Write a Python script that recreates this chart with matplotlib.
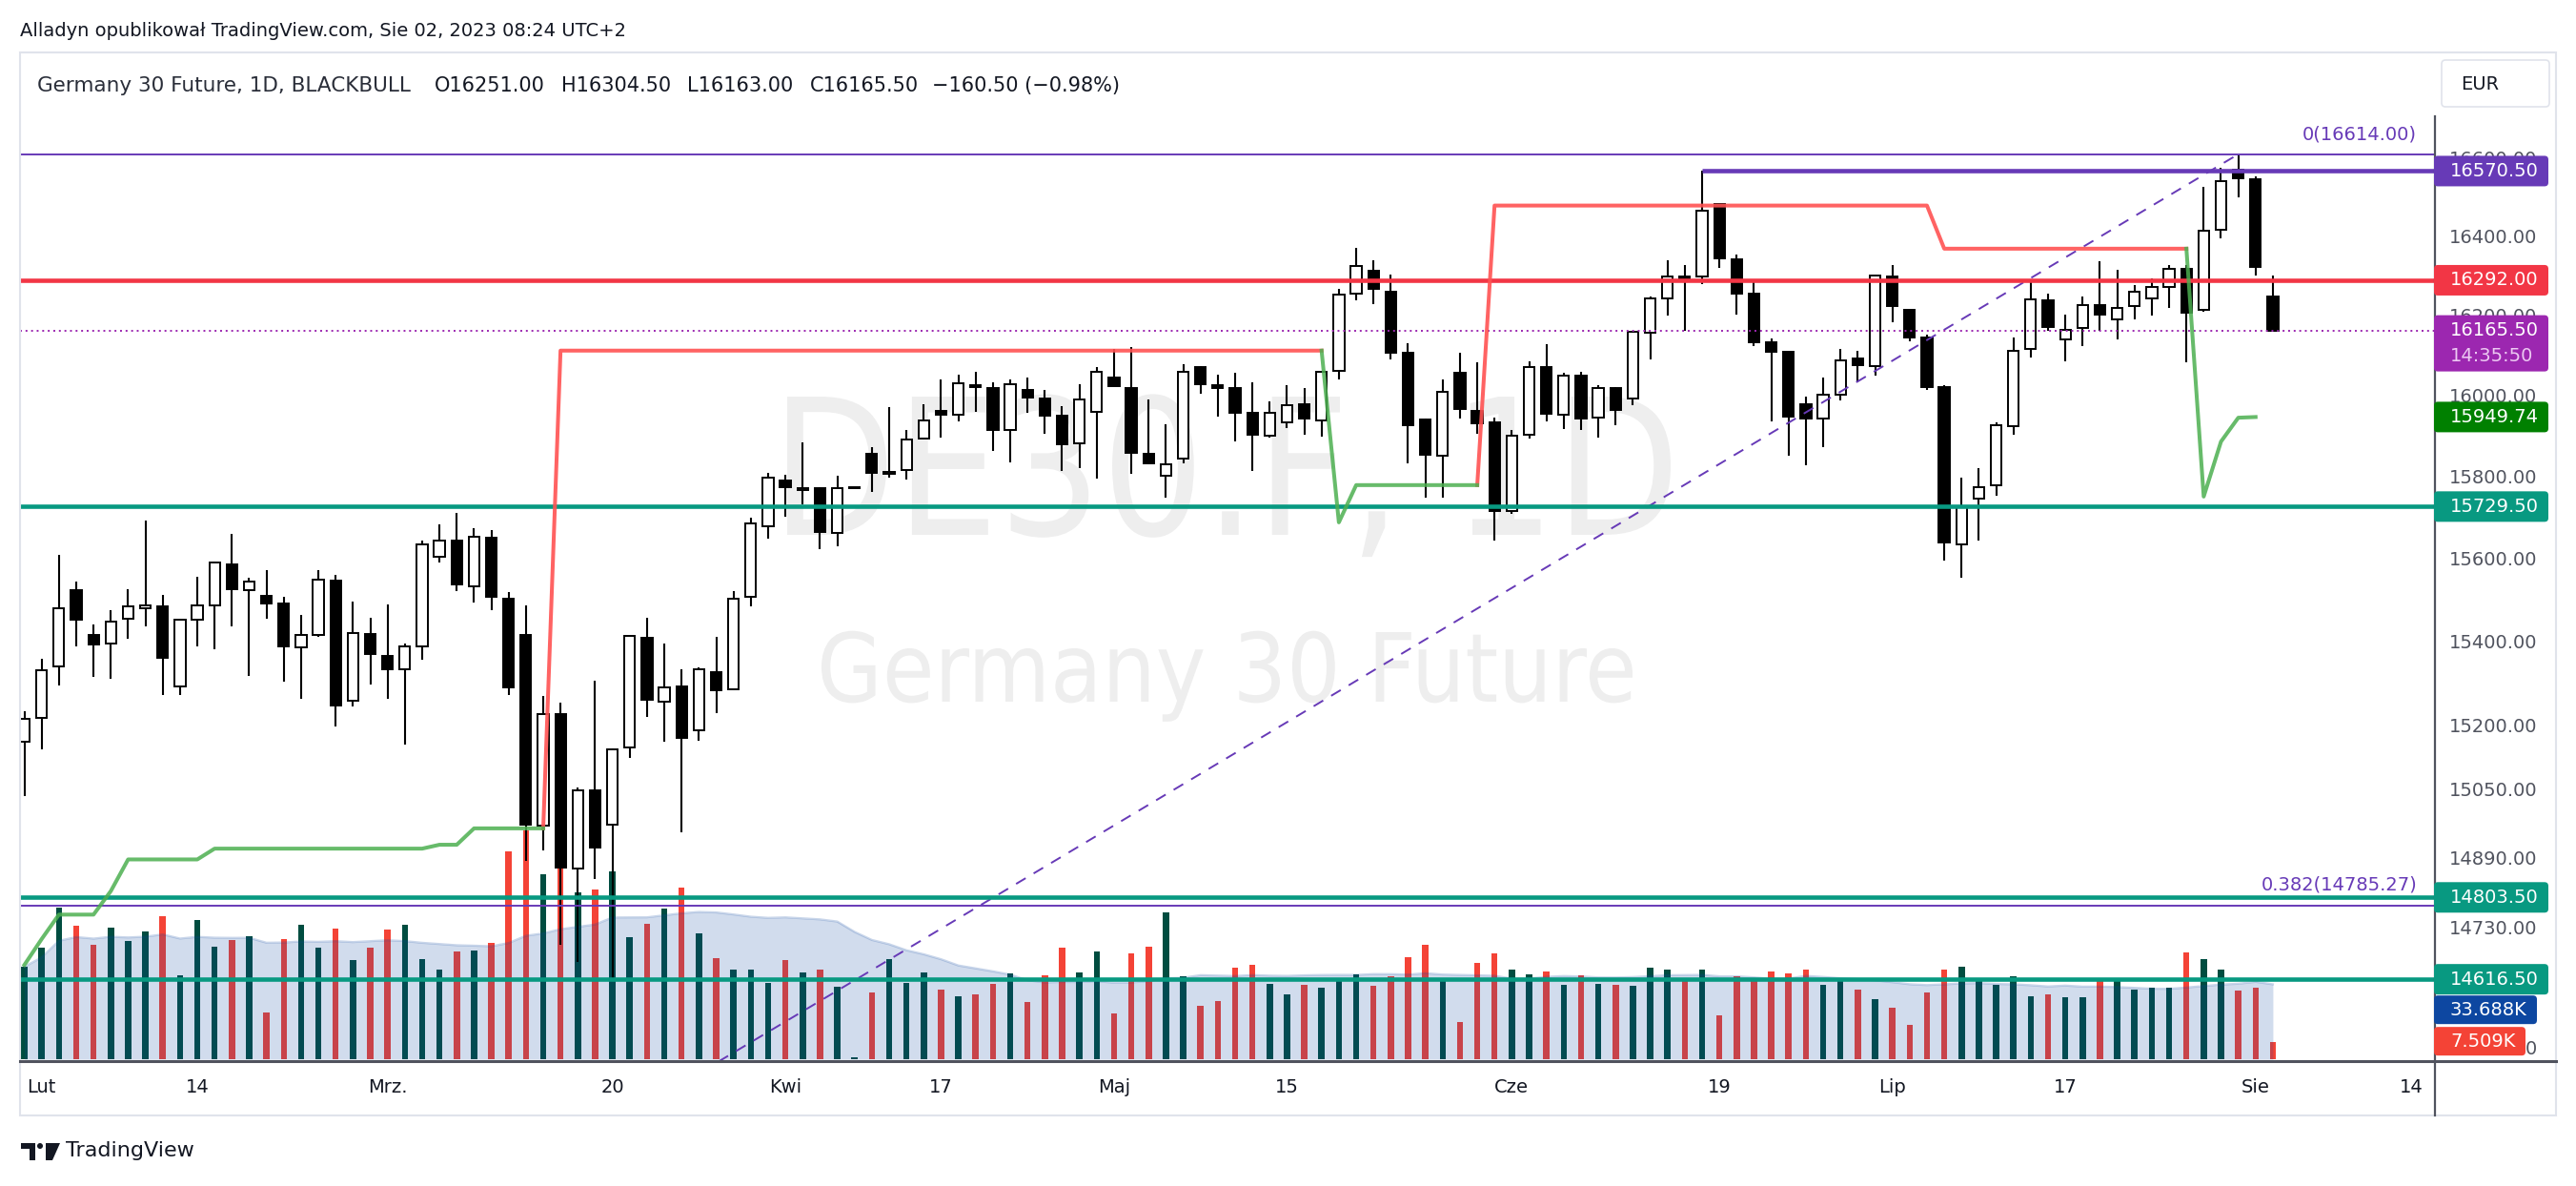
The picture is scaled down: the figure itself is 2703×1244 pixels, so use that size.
import numpy as np
import pandas as pd
import matplotlib
matplotlib.use("Agg")
import matplotlib.pyplot as plt
from matplotlib.patches import FancyBboxPatch, Rectangle, Polygon, Circle, PathPatch
from matplotlib.lines import Line2D
from matplotlib.textpath import TextPath
from matplotlib.font_manager import FontProperties
from matplotlib.transforms import IdentityTransform, Affine2D

W, H = 2703, 1244
plt.rcParams['font.family'] = ['DejaVu Sans']

# daily candles 2023-01-31 .. 2023-08-02 (Good Friday missing)
opens = [15165, 15222, 15344, 15526, 15420, 15398, 15459, 15484, 15487, 15297,
         15456, 15489, 15590, 15527, 15513, 15495, 15390, 15419, 15550, 15262,
         15422, 15370, 15338, 15392, 15608, 15646, 15537, 15654, 15507, 15420,
         14970, 15230, 14870, 15052, 14971, 15153, 15413, 15261, 15297, 15192,
         15331, 15290, 15511, 15682, 15794, 15770, 15774, 15665, 15774, 15860,
         15809, 15818, 15896, 15966, 15956, 16029, 16022, 15918, 16017, 15995,
         15954, 15884, 15963, 16047, 16022, 15858, 15805, 15847, 16074, 16029,
         16022, 15960, 15903, 15936, 15981, 15941, 16065, 16257, 16315, 16264,
         16109, 15944, 15854, 16059, 15965, 15936, 15719, 15905, 16074, 15956,
         16053, 15948, 16022, 15995, 16159, 16247, 16302, 16302, 16485, 16345,
         16258, 16135, 16111, 15982, 15947, 16005, 16095, 16077, 16301, 16217,
         16149, 16025, 15637, 15749, 15781, 15927, 16118, 16241, 16144, 16171,
         16230, 16194, 16227, 16247, 16276, 16321, 16217, 16419, 16573, 16550,
         16251]
highs = [15238, 15363, 15613, 15548, 15445, 15478, 15529, 15696, 15516, 15459,
         15560, 15596, 15663, 15557, 15576, 15510, 15468, 15576, 15564, 15500,
         15461, 15493, 15398, 15647, 15687, 15715, 15678, 15672, 15523, 15490,
         15274, 15258, 15059, 15309, 15150, 15420, 15461, 15398, 15337, 15341,
         15414, 15524, 15702, 15811, 15808, 15888, 15778, 15806, 15778, 15875,
         15974, 15918, 15981, 16043, 16055, 16062, 16037, 16044, 16047, 16017,
         15977, 16032, 16073, 16120, 16123, 15993, 15932, 16082, 16076, 16055,
         16059, 16035, 15989, 16029, 16022, 16065, 16269, 16373, 16342, 16306,
         16133, 15946, 16043, 16109, 16085, 15948, 15918, 16089, 16132, 16059,
         16062, 16029, 16024, 16165, 16252, 16342, 16330, 16570.5, 16487, 16358,
         16293, 16146, 16114, 16000, 16047, 16118, 16115, 16306, 16330, 16218,
         16156, 16028, 15800, 15824, 15936, 16149, 16289, 16258, 16206, 16250,
         16339, 16319, 16279, 16296, 16330, 16330, 16531, 16578, 16614, 16556,
         16304.5]
lows = [15038, 15148, 15298, 15391, 15318, 15314, 15409, 15440, 15277, 15277,
        15391, 15384, 15439, 15321, 15459, 15307, 15267, 15414, 15202, 15248,
        15302, 15267, 15158, 15361, 15593, 15524, 15498, 15479, 15275, 14887,
        14911, 14696, 14655, 14845, 14613, 15127, 15225, 15165, 14953, 15167,
        15232, 15287, 15487, 15651, 15704, 15734, 15625, 15632, 15772, 15765,
        15800, 15796, 15893, 15900, 15938, 15963, 15867, 15838, 15960, 15909,
        15817, 15824, 15797, 16023, 15809, 15833, 15752, 15835, 16007, 15951,
        15890, 15817, 15900, 15923, 15906, 15902, 16044, 16241, 16232, 16094,
        15835, 15752, 15752, 15947, 15909, 15646, 15712, 15897, 15938, 15921,
        15918, 15900, 15930, 15978, 16092, 16203, 16165, 16283, 16324, 16205,
        16126, 15938, 15854, 15830, 15875, 15990, 16035, 16052, 16186, 16138,
        16016, 15599, 15556, 15646, 15757, 15905, 16097, 16165, 16089, 16126,
        16165, 16142, 16194, 16203, 16221, 16085, 16212, 16399, 16503, 16304,
        16163]
closes = [15220, 15334, 15482, 15456, 15397, 15452, 15487, 15491, 15365, 15456,
          15489, 15593, 15529, 15548, 15494, 15391, 15419, 15551, 15252, 15423,
          15373, 15338, 15392, 15637, 15647, 15540, 15657, 15510, 15295, 14971,
          15231, 14873, 15052, 14919, 15148, 15416, 15265, 15295, 15174, 15338,
          15287, 15507, 15689, 15800, 15777, 15774, 15668, 15774, 15777, 15812,
          15814, 15893, 15941, 15956, 16034, 16025, 15918, 16032, 15999, 15954,
          15882, 15993, 16062, 16026, 15861, 15836, 15833, 16062, 16032, 16022,
          15959, 15906, 15960, 15980, 15947, 16062, 16255, 16327, 16269, 16109,
          15929, 15857, 16013, 15970, 15935, 15718, 15903, 16074, 15957, 16053,
          15947, 16022, 15968, 16162, 16246, 16302, 16295, 16468, 16348, 16258,
          16135, 16112, 15951, 15947, 16005, 16091, 16079, 16304, 16226, 16147,
          16025, 15643, 15728, 15778, 15929, 16114, 16243, 16174, 16168, 16229,
          16206, 16221, 16262, 16275, 16322, 16209, 16417, 16545, 16551, 16326,
          16165.5]
volume_k = [40.4, 48.6, 66.3, 58.3, 50, 57.5, 51.5, 55.8, 62.6, 36.5,
            60.8, 49.2, 52, 53.7, 20.6, 52.5, 58.7, 48.6, 57, 43.3,
            48.6, 56.6, 58.7, 43.6, 39.2, 47, 47.5, 50.8, 91, 100,
            81, 86, 73, 74, 82, 53.5, 59, 66, 75, 55,
            44.3, 39, 39, 33.5, 43.5, 38, 39, 31.8, 0.8, 29.3,
            43.6, 33.3, 37.9, 30.6, 27.5, 28.3, 33, 37.5, 24.8, 36.5,
            48.6, 37.9, 47, 19.8, 46.2, 49.2, 64.2, 36.2, 23.5, 25.6,
            40, 41.2, 33, 28.5, 32.5, 31.2, 34.2, 37, 32, 36.2,
            44.4, 50, 35.6, 16.2, 42, 46.2, 39.2, 37, 38.3, 32.5,
            36.5, 32.8, 32.5, 32, 40, 39.3, 35.6, 39.3, 19.2, 36.2,
            35.1, 38.3, 37.5, 39.2, 32.5, 35, 30.6, 26.4, 22.7, 14.8,
            29.2, 39.2, 40.4, 35.1, 32.5, 36.2, 27.7, 28.3, 27, 27,
            35.6, 34.3, 30.6, 31.4, 31.4, 46.5, 43.6, 39.3, 29.8, 31.4,
            7.509]

nan = np.nan
# trailing stop indicator (step lines)
red_stop = ([nan] * 30 + [14963] + [16115] * 45 + [nan] * 8 + [15782]
            + [16482] * 26 + [16372] * 15 + [nan] * 5)
green_stop = ([14649, 14708] + [14764] * 3 + [14818] + [14891] * 5 + [14916] * 13
              + [14925] * 2 + [14963] * 5 + [nan] * 44 + [16115, 15691] + [15782] * 8
              + [nan] * 40 + [16372, 15754, 15889, 15948, 15949.74, nan])

# drawn levels
fib_zero, fib_382 = 16614.0, 14785.27
fib_one = fib_zero - (fib_zero - fib_382) / 0.382
fib_bars = [-84, 128]
hi_level = 16570.5
res_level = 16292.0
last_price = 16165.5
sup_levels = [15729.5, 14803.5, 14616.5]
stop_now = 15949.74

price_ticks = [16600, 16400, 16200, 16000, 15800, 15600, 15400, 15200, 15050, 14890, 14730]
time_ticks = [("2023-02-01", "Lut"), ("2023-02-14", "14"), ("2023-03-01", "Mrz."),
              ("2023-03-20", "20"), ("2023-04-03", "Kwi"), ("2023-04-17", "17"),
              ("2023-05-01", "Maj"), ("2023-05-15", "15"), ("2023-06-01", "Cze"),
              ("2023-06-19", "19"), ("2023-07-03", "Lip"), ("2023-07-17", "17"),
              ("2023-08-01", "Sie"), ("2023-08-14", "14")]

days = pd.bdate_range("2023-01-31", "2023-08-31")
days = days[days != pd.Timestamp("2023-04-07")]
n = len(opens)
x = np.arange(n)
o, hgh, low, c = map(np.array, (opens, highs, lows, closes))
up = c >= o
vol = np.array(volume_k)
vol_ma = pd.Series(vol).rolling(20, min_periods=1).mean().values

fig = plt.figure(figsize=(W / 100, H / 100), dpi=100, facecolor="white")
ID = IdentityTransform()

L_, R_, T_, B_ = 21, 2555, 56, 1113
rect = [L_ / W, 1 - B_ / H, (R_ - L_) / W, (B_ - T_) / H]
ax_v = fig.add_axes(rect, zorder=1)
ax = fig.add_axes(rect, zorder=2)
for a in (ax, ax_v):
    a.set_facecolor("none")
    for s in a.spines.values():
        s.set_visible(False)
    a.set_xticks([])
    a.set_yticks([])
    a.set_xlim(-0.25, 139.37)

ax.set_yscale("log")
ax.set_ylim(14432, 16876)
ax.yaxis.set_minor_locator(plt.NullLocator())
ax.yaxis.set_major_locator(plt.NullLocator())
ax_v.set_ylim(-0.83, 439.6)

# volume + MA area
ax_v.bar(x, vol, width=0.36, color=np.where(up, "#004d40", "#f44336"), zorder=2)
ax_v.fill_between(x, 0, vol_ma, color="#0d47a1", alpha=0.19, lw=0, zorder=3)
ax_v.plot(x, vol_ma, color="#0d47a1", alpha=0.22, lw=1.6, zorder=3)

# candles
ax.vlines(x, low, hgh, color="black", lw=1.5, zorder=3)
ax.bar(x, np.maximum(np.abs(c - o), 0.5), bottom=np.minimum(o, c), width=0.62,
       color=np.where(up, "white", "black"), edgecolor="black", lw=1.4, zorder=4)

# indicator lines
ax.plot(x, red_stop, color="#ff5252", lw=2.9, alpha=0.9, zorder=6)
ax.plot(x, green_stop, color="#4caf50", lw=2.9, alpha=0.85, zorder=6)

# drawings
ax.axhline(fib_zero, color="#673ab7", lw=1.4, zorder=5)
ax.axhline(fib_382, color="#673ab7", lw=1.4, zorder=5)
ax.plot(fib_bars, [fib_one, fib_zero], color="#673ab7", lw=1.4, ls=(0, (6, 5)), zorder=5)
ax.hlines(hi_level, 97, 145, color="#673ab7", lw=3.3, zorder=5)
ax.axhline(res_level, color="#f23645", lw=3.3, zorder=5)
ax.axhline(last_price, color="#9c27b0", lw=1.4, ls=(0, (1, 2)), zorder=5)
for lv in sup_levels:
    ax.axhline(lv, color="#089981", lw=3.3, zorder=5)


def py(p):
    return H - ax.transData.transform((0, p))[1]


def pxi(i):
    return ax.transData.transform((i, 15000))[0]


def txt(xp, yp, s, **kw):
    kw.setdefault("fontsize", 14)
    kw.setdefault("va", "center")
    kw.setdefault("zorder", 6)
    return fig.text(xp, H - yp, s, transform=ID, **kw)


def box(x0, x1, y0, y1, color, ec="none", fc=None, lw=0, zorder=5):
    fig.add_artist(FancyBboxPatch((x0, H - y1), x1 - x0, y1 - y0,
                                  boxstyle="round,pad=0,rounding_size=4",
                                  fc=color if fc is None else fc, ec=ec, lw=lw,
                                  transform=ID, zorder=zorder))


def seg(x0, y0, x1, y1, **kw):
    fig.add_artist(Line2D([x0, x1], [H - y0, H - y1], transform=ID, **kw))


def watermark(s, x0, x1, base, cap):
    fp = FontProperties(family="DejaVu Sans")
    tp = TextPath((0, 0), s, size=100, prop=fp)
    ext = tp.get_extents()
    cap_h = TextPath((0, 0), "D", size=100, prop=fp).get_extents().y1
    tr = (Affine2D().translate(-ext.x0, 0)
          .scale((x1 - x0) / ext.width, cap / cap_h).translate(x0, H - base))
    fig.add_artist(PathPatch(tr.transform_path(tp), fc="#eeeeee", ec="none",
                             transform=ID, zorder=0))


watermark("DE30.F, 1D", 826, 1753, 561, 145)
watermark("Germany 30 Future", 862, 1713, 736, 73)

# frame and scales
fig.add_artist(Rectangle((21, H - 1170), 2682 - 21, 1170 - 55, fill=False,
                         ec="#e0e3eb", lw=1.5, transform=ID, zorder=3))
seg(21, 1113, 2682, 1113, color="#50535e", lw=2.2, zorder=3)
seg(2555, 122, 2555, 1170, color="#50535e", lw=1.6, zorder=3)
box(2562, 2675, 63, 112, "white", ec="#e0e3eb", lw=1.2, zorder=3)
txt(2582, 88, "EUR", color="#131722")

for t in price_ticks:
    txt(2662, py(t), f"{t:.2f}", ha="right", color="#50535e", zorder=4)
txt(2662, 1100, "0", ha="right", color="#50535e", zorder=4)

tick_pos = {d: i for i, d in enumerate(days)}
for d, lab in time_ticks:
    txt(pxi(tick_pos[pd.Timestamp(d)]), 1141, lab, ha="center", color="#131722")

# fib level texts
txt(2536, py(fib_zero) - 21, "0(16614.00)", ha="right", color="#673ab7")
txt(2536, py(fib_382) - 22, "0.382(14785.27)", ha="right", color="#673ab7")

# price scale labels
def price_label(p, color, text, x1=2674, h=32):
    yc = py(p)
    box(2554, x1, yc - h / 2, yc + h / 2, color)
    txt(2571, yc, text, color="white")
    return yc


price_label(hi_level, "#673ab7", "16570.50")
price_label(res_level, "#f23645", "16292.00")
yc = py(last_price)
box(2554, 2674, yc - 16, yc + 43, "#9c27b0")
txt(2571, yc, "16165.50", color="white")
txt(2571, yc + 27, "14:35:50", color="#ecc9f2")
price_label(stop_now, "#008000", "15949.74")
for lv in sup_levels:
    y_last = price_label(lv, "#089981", f"{lv:.2f}")
box(2554, 2662, y_last + 17, y_last + 47, "#0d47a1")
txt(2571, y_last + 32, "33.688K", color="white")
box(2554, 2650, y_last + 50, y_last + 80, "#f44336")
txt(2571, y_last + 65, "7.509K", color="white")

# header
txt(21, 33, "Alladyn opublikował TradingView.com, Sie 02, 2023 08:24 UTC+2", color="#131722")
txt(39, 90, "Germany 30 Future, 1D, BLACKBULL", color="#2a2e39", fontsize=15.5)
for xp, s in [(456, "O16251.00"), (589, "H16304.50"), (721, "L16163.00"),
              (850, "C16165.50"), (978, "\u2212160.50 (\u22120.98%)")]:
    txt(xp, 90, s, color="#131722", fontsize=15)

# footer logo
fig.add_artist(Polygon([(22, H - 1199), (37, H - 1199), (37, H - 1217), (31, H - 1217),
                        (31, H - 1205), (22, H - 1205)], fc="#131722", ec="none",
                       transform=ID, zorder=6))
fig.add_artist(Circle((42, H - 1202), 3, fc="#131722", ec="none", transform=ID, zorder=6))
fig.add_artist(Polygon([(48, H - 1199), (63, H - 1199), (55, H - 1217), (48, H - 1217)],
                       fc="#131722", ec="none", transform=ID, zorder=6))
txt(69, 1207, "TradingView", color="#131722", fontsize=16)

fig.savefig("out.png", dpi=100, facecolor="white")
